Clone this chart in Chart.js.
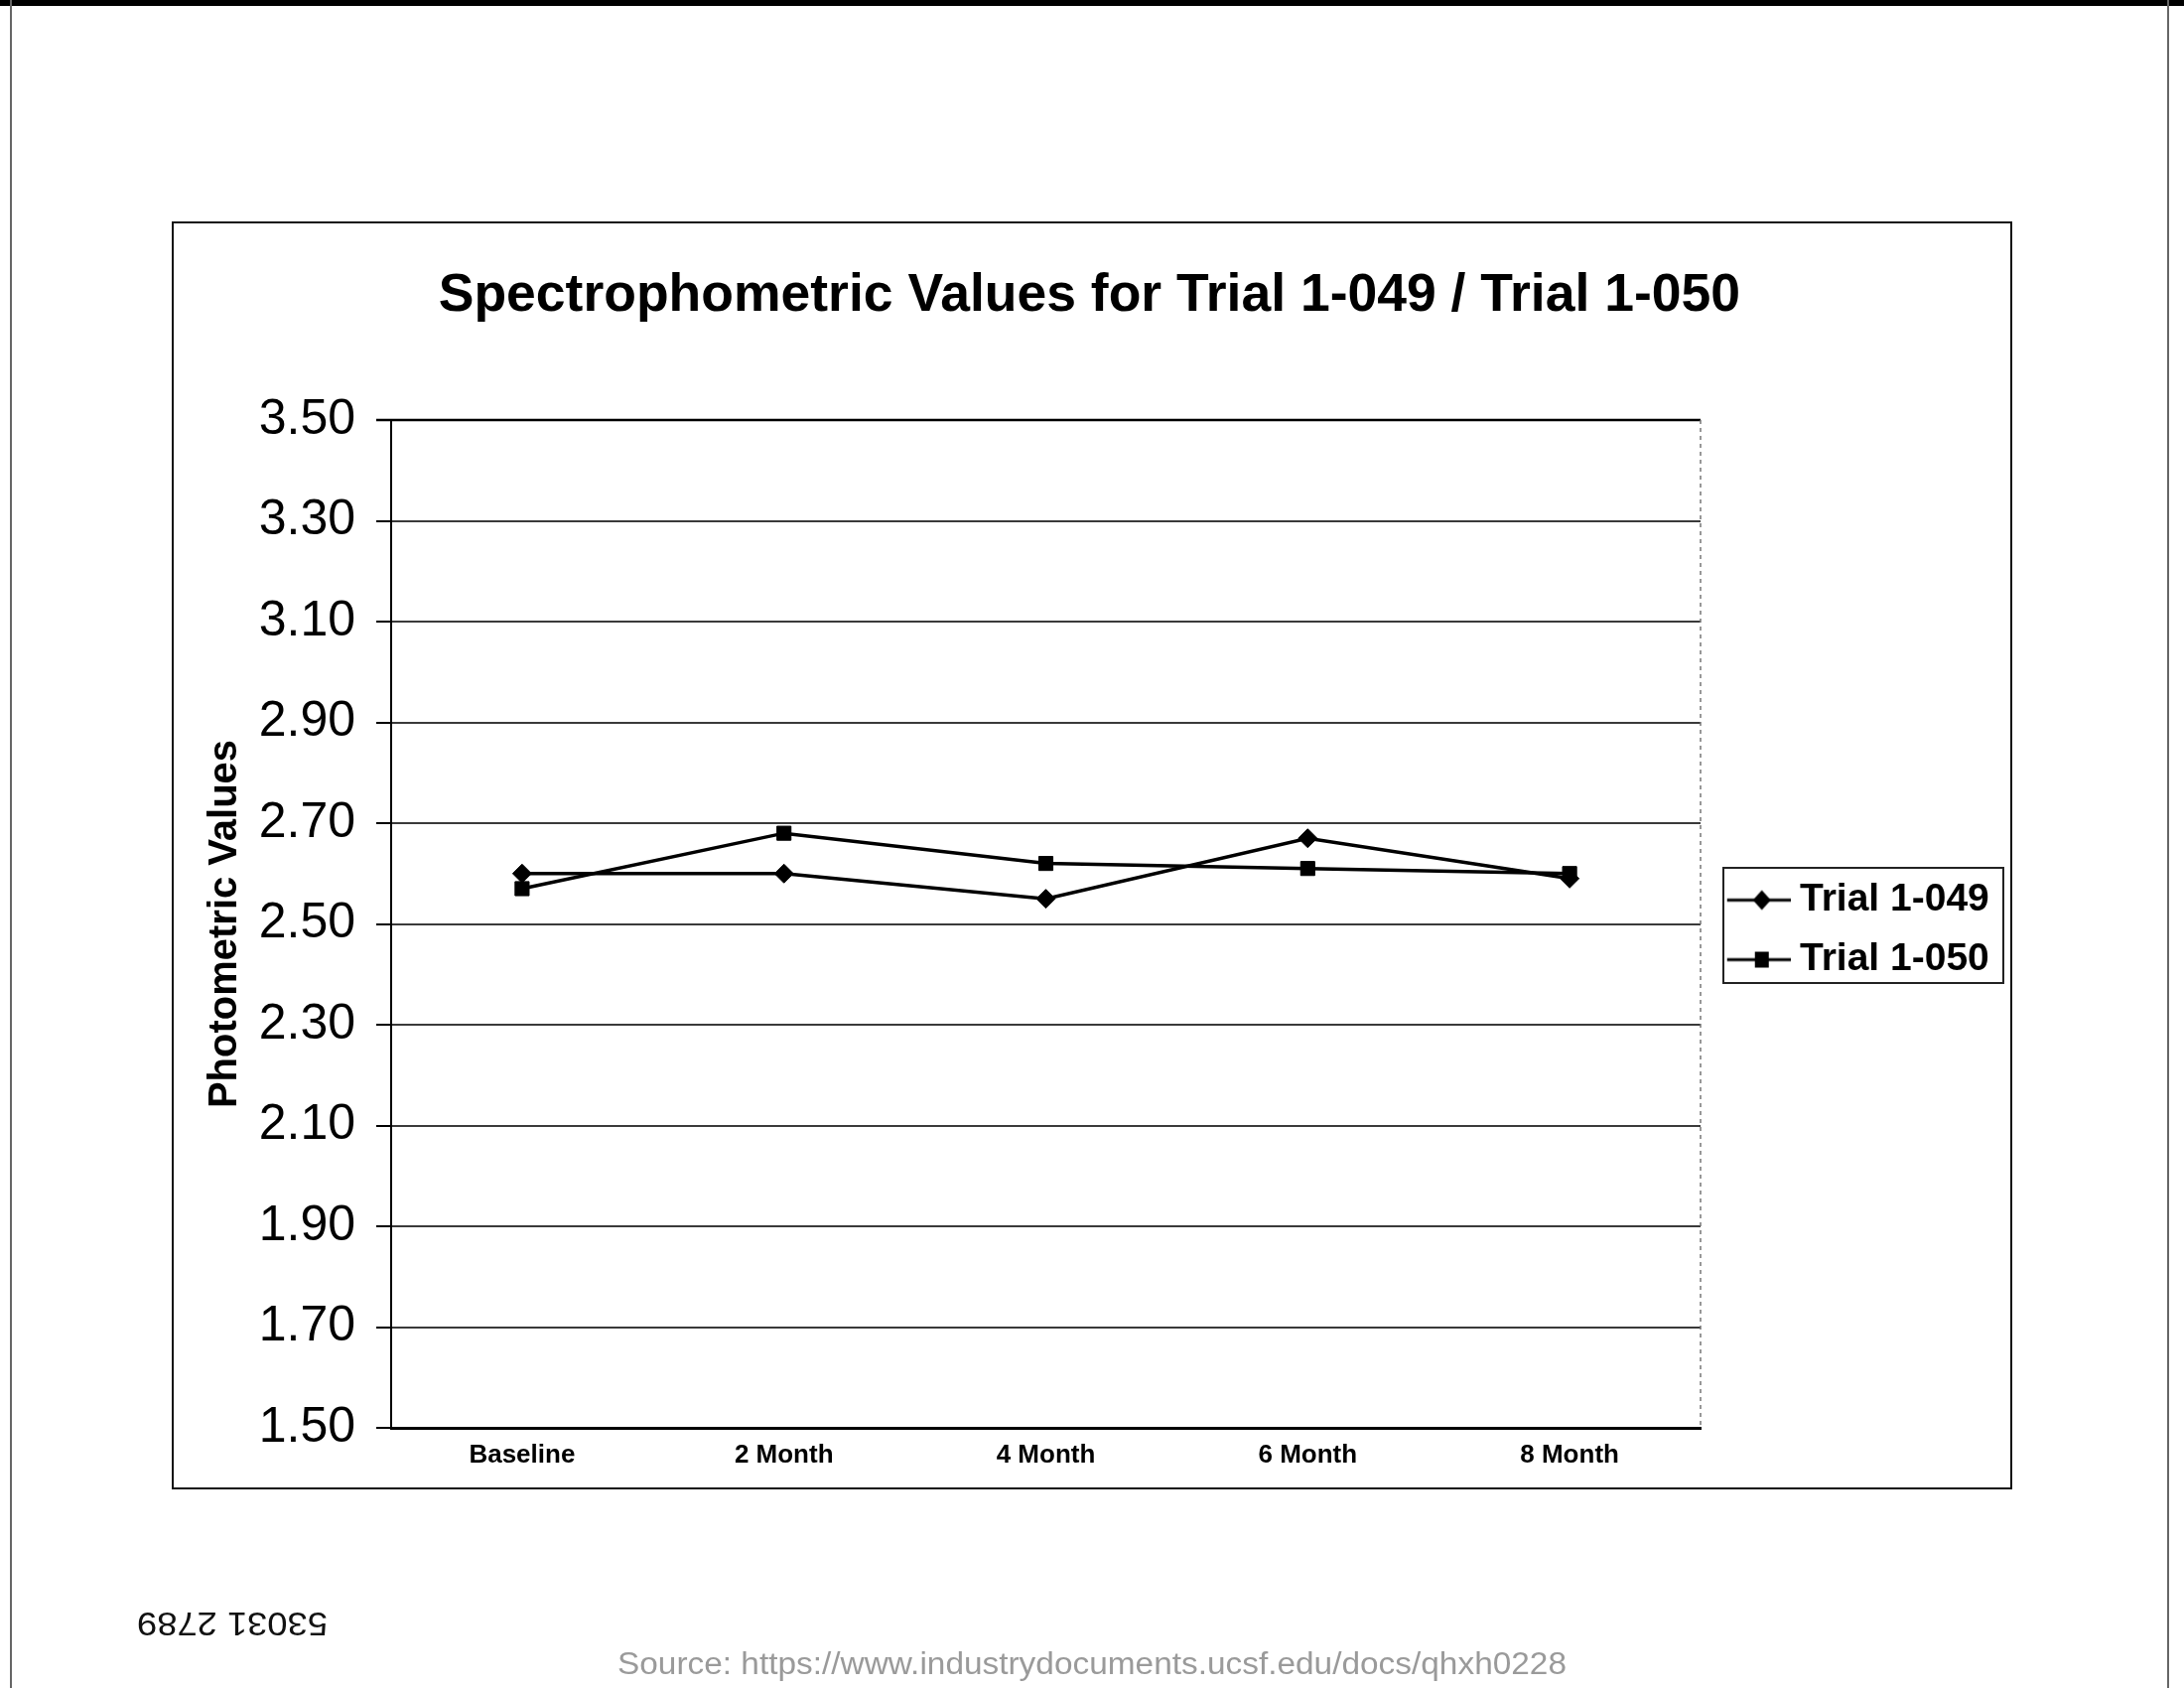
<!DOCTYPE html>
<html><head><meta charset="utf-8">
<script src="https://cdn.jsdelivr.net/npm/chart.js@4.4.1/dist/chart.umd.min.js"></script>
<style>html,body{margin:0;padding:0;background:#fff;} canvas{display:block;}</style>
</head><body>
<canvas id="c" width="2200" height="1700"></canvas>
<script>
// ---- data ----
const categories = ['Baseline', '2 Month', '4 Month', '6 Month', '8 Month'];
const trial049 = [2.60, 2.60, 2.55, 2.67, 2.59];
const trial050 = [2.57, 2.68, 2.62, 2.61, 2.60];
const seriesNames = ['Trial 1-049', 'Trial 1-050'];
const yMin = 1.50, yMax = 3.50, yStep = 0.20;
const titleText = 'Spectrophometric Values for Trial 1-049 / Trial 1-050';
const yTitleText = 'Photometric Values';
const sourceText = 'Source: https://www.industrydocuments.ucsf.edu/docs/qhxh0228';
const stampText = '53031 2789';

const FONT = "'Liberation Sans', Arial, Helvetica, sans-serif";
Chart.defaults.font.family = FONT;
Chart.defaults.color = '#000';

function legendImage(style) {
  const cv = document.createElement('canvas');
  cv.width = 80; cv.height = 26;
  const g = cv.getContext('2d');
  g.strokeStyle = '#000'; g.lineWidth = 3;
  g.beginPath(); g.moveTo(16, 13); g.lineTo(80, 13); g.stroke();
  g.fillStyle = '#000';
  const cx = 51, cy = 13;
  if (style === 'diamond') {
    g.beginPath(); g.moveTo(cx, cy - 10); g.lineTo(cx + 9, cy); g.lineTo(cx, cy + 10); g.lineTo(cx - 9, cy); g.closePath(); g.fill();
  } else {
    g.fillRect(cx - 7, cy - 8, 14, 16);
  }
  return cv;
}
const legendImgs = [legendImage('diamond'), legendImage('square')];

const PAD_LEFT = 181, PLOT_LEFT = 394, PLOT_RIGHT = 1713;

const decor = {
  id: 'decor',
  beforeDraw(chart) {
    const ctx = chart.ctx;
    ctx.save();
    ctx.fillStyle = '#fff';
    ctx.fillRect(0, 0, chart.width, chart.height);
    ctx.fillStyle = '#000';
    ctx.fillRect(0, 0, chart.width, 6);
    ctx.strokeStyle = '#666'; ctx.lineWidth = 2;
    ctx.beginPath(); ctx.moveTo(11, 0); ctx.lineTo(11, chart.height); ctx.stroke();
    ctx.beginPath(); ctx.moveTo(2184, 0); ctx.lineTo(2184, chart.height); ctx.stroke();
    // outer frame
    ctx.strokeStyle = '#111'; ctx.lineWidth = 2;
    ctx.strokeRect(174, 224, 1852, 1275);
    ctx.restore();
  },
  afterDraw(chart) {
    const ctx = chart.ctx, ca = chart.chartArea;
    ctx.save();
    ctx.strokeStyle = '#000'; ctx.lineWidth = 2.5;
    ctx.beginPath(); ctx.moveTo(ca.left - 15, ca.top); ctx.lineTo(ca.right, ca.top); ctx.stroke();
    ctx.setLineDash([4, 4]); ctx.strokeStyle = '#777'; ctx.lineWidth = 1.5;
    ctx.beginPath(); ctx.moveTo(ca.right, ca.top); ctx.lineTo(ca.right, ca.bottom); ctx.stroke();
    ctx.setLineDash([]);
    // legend frame
    const hb = chart.legend.legendHitBoxes;
    if (hb && hb.length) {
      const x1 = hb[0].left + 2, x2 = x1 + 282;
      const y1 = hb[0].top - 13, y2 = hb[hb.length - 1].top + hb[hb.length - 1].height + 4;
      ctx.strokeStyle = '#222'; ctx.lineWidth = 2;
      ctx.strokeRect(x1, y1, x2 - x1, y2 - y1);
    }
    // source text
    ctx.fillStyle = '#9a9a9a';
    ctx.font = "31px 'Liberation Sans Narrow', 'Liberation Sans', Arial, sans-serif";
    ctx.textBaseline = 'alphabetic';
    let w = ctx.measureText(sourceText).width;
    ctx.save();
    ctx.translate(622, 1686);
    ctx.scale(956 / w, 1);
    ctx.fillText(sourceText, 0, 0);
    ctx.restore();
    // upside-down stamp
    ctx.fillStyle = '#111';
    ctx.font = "33px 'Liberation Sans', Arial, sans-serif";
    w = ctx.measureText(stampText).width;
    ctx.save();
    ctx.translate(234, 1633);
    ctx.rotate(Math.PI);
    ctx.scale(192 / w, 1);
    ctx.textAlign = 'center'; ctx.textBaseline = 'middle';
    ctx.fillText(stampText, 0, 0);
    ctx.restore();
    ctx.restore();
  }
};

const chart = new Chart(document.getElementById('c'), {
  type: 'line',
  data: {
    labels: categories,
    datasets: [
      { label: seriesNames[0], data: trial049, borderColor: '#000', backgroundColor: '#000', borderWidth: 3.5,
        pointStyle: 'rectRot', pointRadius: 9.5, pointHoverRadius: 9.5, pointBackgroundColor: '#000', pointBorderColor: '#000', pointBorderWidth: 1, tension: 0 },
      { label: seriesNames[1], data: trial050, borderColor: '#000', backgroundColor: '#000', borderWidth: 3.5,
        pointStyle: 'rect', pointRadius: 10, pointHoverRadius: 10, pointBackgroundColor: '#000', pointBorderColor: '#000', pointBorderWidth: 1, tension: 0 }
    ]
  },
  options: {
    responsive: false,
    animation: false,
    devicePixelRatio: 1,
    layout: { padding: { left: PAD_LEFT, right: 190, top: 230, bottom: 200 } },
    plugins: {
      title: { display: true, text: titleText, color: '#000', font: { size: 53.5, weight: 'bold' }, padding: { top: 36, bottom: 92.8 } },
      legend: {
        position: 'right', align: 'center', fullSize: false,
        title: { display: true, text: '', font: { size: 10 }, padding: { top: 0, bottom: 0 } },
        labels: {
          usePointStyle: true, pointStyleWidth: 59.5, padding: 21, color: '#000',
          font: { size: 39, weight: 'bold' },
          generateLabels(ch) {
            const items = Chart.defaults.plugins.legend.labels.generateLabels(ch);
            items.forEach((it, i) => { it.pointStyle = legendImgs[i]; });
            return items;
          }
        }
      },
      tooltip: { enabled: false }
    },
    scales: {
      x: {
        type: 'category', offset: true,
        grid: { display: false, drawTicks: false },
        border: { display: true, color: '#000', width: 3 },
        ticks: { font: { size: 26, weight: 'bold' }, color: '#000', padding: 12, maxRotation: 0, autoSkip: false },
        afterFit(s) { s.height = 62; }
      },
      y: {
        min: yMin, max: yMax,
        ticks: { stepSize: yStep, callback: v => Number(v).toFixed(2), font: { size: 50 }, padding: 21, color: '#000' },
        grid: { color: '#3a3a3a', lineWidth: 2, tickLength: 15, tickColor: '#000', tickWidth: 2, drawTicks: true },
        border: { color: '#000', width: 2 },
        title: { display: true, text: yTitleText, color: '#000', font: { size: 40, weight: 'bold' }, padding: { top: 22, bottom: 0 } },
        afterFit(s) { s.width = PLOT_LEFT - PAD_LEFT; }
      }
    }
  },
  plugins: [decor]
});
const W = chart.legend.width;
chart.options.layout.padding.right = 2200 - PLOT_RIGHT - W;
chart.update();
</script>
</body></html>
